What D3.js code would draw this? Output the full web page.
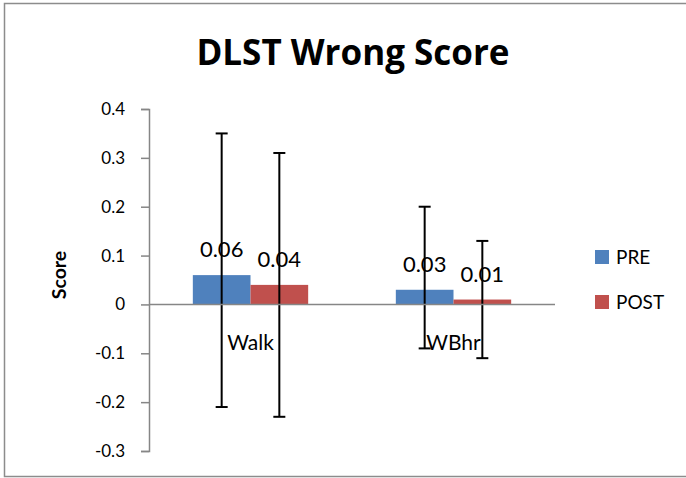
<!DOCTYPE html>
<html lang="en">
<head>
  <meta charset="UTF-8">
  <title>DLST Wrong Score</title>
  <script src="https://cdn.jsdelivr.net/npm/d3@7"></script>
  <style>
    body { margin: 0; background: #fff; }
    svg { display: block; font-family: Lato, "Noto Sans", sans-serif; }
  </style>
</head>
<body>
<svg></svg>
<script>
  const width = 686, height = 478
  const margin = {top: 109, right: 131, bottom: 27, left: 149}

  // data
  const categories = ['Walk', 'WBhr']
  const series = ['PRE', 'POST']
  const colors = ['#4F81BD', '#C0504D']
  const preValues = [0.06, 0.03]
  const postValues = [0.04, 0.01]
  const preLow = [-0.21, -0.09]
  const preHigh = [0.35, 0.20]
  const postLow = [-0.23, -0.11]
  const postHigh = [0.31, 0.13]
  const yTicks = [-0.3, -0.2, -0.1, 0, 0.1, 0.2, 0.3, 0.4]

  const data = categories.map((c, i) => ({
    category: c,
    values: [
      {key: 'PRE', value: preValues[i], low: preLow[i], high: preHigh[i]},
      {key: 'POST', value: postValues[i], low: postLow[i], high: postHigh[i]}
    ]
  }))

  const svg = d3.select('svg')
      .attr('width', width)
      .attr('height', height)
      .attr('viewBox', [0, 0, width, height])

  // outer frame
  svg.append('rect')
      .attr('x', 4.5).attr('y', 3.5)
      .attr('width', 700).attr('height', 473)
      .attr('fill', 'none')
      .attr('stroke', '#8c8c8c')
      .attr('stroke-width', 1.5)

  const x0 = d3.scaleBand()
      .domain(categories)
      .range([margin.left, width - margin.right])

  const x1 = d3.scaleBand()
      .domain(series)
      .range([0, x0.bandwidth()])
      .paddingOuter(0.76)

  const y = d3.scaleLinear()
      .domain([-0.3, 0.4])
      .range([height - margin.bottom, margin.top])

  const color = d3.scaleOrdinal().domain(series).range(colors)

  // title
  svg.append('text')
      .attr('x', 353)
      .attr('y', 65)
      .attr('text-anchor', 'middle')
      .attr('font-family', '"Open Sans", sans-serif')
      .attr('font-size', 35)
      .attr('font-weight', 'bold')
      .text('DLST Wrong Score')

  // y axis label
  svg.append('text')
      .attr('transform', `translate(66,${(y(0.4) + y(-0.3)) / 2 - 5}) rotate(-90)`)
      .attr('text-anchor', 'middle')
      .attr('font-size', 19.5)
      .attr('font-weight', 'bold')
      .text('Score')

  // y axis
  svg.append('g')
      .attr('transform', `translate(${margin.left},0)`)
      .call(d3.axisLeft(y).tickValues(yTicks).tickFormat(d => String(d)).tickSize(8).tickPadding(16).tickSizeOuter(8))
      .call(g => g.selectAll('path, line').attr('stroke', '#868686').attr('stroke-width', 1.5))
      .call(g => g.selectAll('text').attr('font-size', 17).attr('fill', '#000').attr('font-family', 'Lato, sans-serif'))

  const groups = svg.append('g')
      .selectAll('g')
      .data(data)
      .join('g')
      .attr('transform', d => `translate(${x0(d.category)},0)`)

  // bars
  groups.selectAll('rect')
      .data(d => d.values)
      .join('rect')
      .attr('x', d => x1(d.key))
      .attr('width', x1.bandwidth())
      .attr('y', d => y(Math.max(0, d.value)))
      .attr('height', d => Math.abs(y(d.value) - y(0)))
      .attr('fill', d => color(d.key))

  // zero line
  svg.append('line')
      .attr('x1', margin.left).attr('x2', width - margin.right)
      .attr('y1', y(0)).attr('y2', y(0))
      .attr('stroke', '#868686')
      .attr('stroke-width', 1.5)

  // category labels
  groups.append('text')
      .attr('x', x0.bandwidth() / 2)
      .attr('y', y(0) + 46)
      .attr('text-anchor', 'middle')
      .attr('font-size', 21)
      .text(d => d.category)

  // value labels
  groups.selectAll('.val')
      .data(d => d.values)
      .join('text')
      .attr('class', 'val')
      .attr('x', d => x1(d.key) + x1.bandwidth() / 2)
      .attr('y', d => y(d.value) - 18)
      .attr('text-anchor', 'middle')
      .attr('font-size', 22)
      .text(d => d.value.toFixed(2))

  // error bars
  const err = groups.selectAll('.err')
      .data(d => d.values)
      .join('g')
      .attr('class', 'err')
      .attr('transform', d => `translate(${x1(d.key) + x1.bandwidth() / 2},0)`)
      .attr('stroke', '#000')
      .attr('stroke-width', 2)

  err.append('line')
      .attr('y1', d => y(d.low)).attr('y2', d => y(d.high))
  err.append('line')
      .attr('x1', -6).attr('x2', 6)
      .attr('y1', d => y(d.high)).attr('y2', d => y(d.high))
  err.append('line')
      .attr('x1', -6).attr('x2', 6)
      .attr('y1', d => y(d.low)).attr('y2', d => y(d.low))

  // legend
  const legend = svg.append('g')
      .selectAll('g')
      .data(series)
      .join('g')
      .attr('transform', (d, i) => `translate(595,${257 + i * 45})`)

  legend.append('rect')
      .attr('y', -7)
      .attr('width', 14).attr('height', 14)
      .attr('fill', d => color(d))

  legend.append('text')
      .attr('x', 21)
      .attr('y', 7)
      .attr('font-size', 19)
      .text(d => d)
</script>
</body>
</html>
